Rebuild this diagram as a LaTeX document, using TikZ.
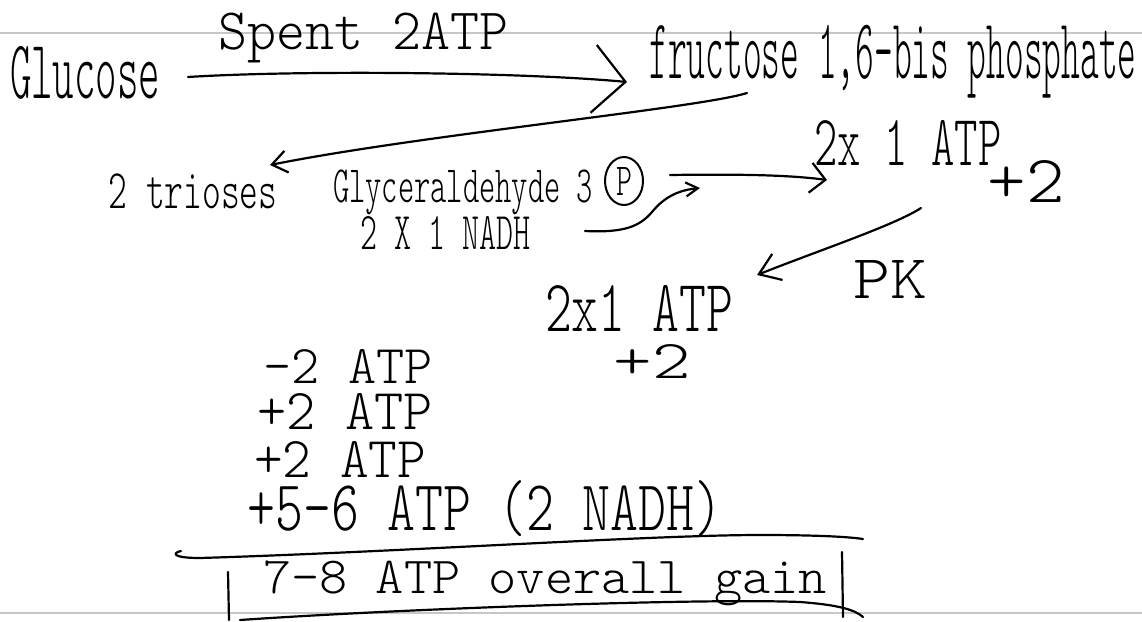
\documentclass[tikz,border=0pt]{standalone}
\usepackage{fontspec}
\newfontfamily\hand{lmmonolt10-regular.otf}
\usetikzlibrary{arrows.meta,shapes.geometric}
\newcommand{\hw}[3]{\resizebox*{#1pt}{#2pt}{\hand #3}}
\tikzset{
  txt/.style={inner sep=0pt, outer sep=0pt},
  pen/.style={line width=2.2pt, line cap=round, line join=round, black},
  ruled/.style={line width=1.6pt, color=black!22},
}
\begin{document}
\begin{tikzpicture}[x=1pt,y=-1pt]
\useasboundingbox (0,0) rectangle (1142,621);
\fill[white] (0,0) rectangle (1142,621);
% ruled notebook lines
\draw[ruled] (0,33) -- (1142,33);
\draw[ruled] (0,613) -- (1142,613);

% texts
\node[txt] (glucose) at (85,73) {\hw{150}{53}{Glucose}};
\node[txt] (spent) at (363,38) {\hw{290}{50}{Spent 2ATP}};
\node[txt] (fru) at (893,62) {\hw{487}{73}{fructose 1,6-bis phosphate}};
\node[txt] (trioses) at (193,191) {\hw{169}{35}{2 trioses}};
\node[txt] (glyc) at (463,192) {\hw{260}{45}{Glyceraldehyde 3}};
\node[txt, draw, ellipse, line width=2pt, minimum width=38pt, minimum height=48pt] (pc) at (624,181) {\hw{16}{28}{P}};
\node[txt] (atp1) at (908,143) {\hw{187}{45}{2x 1 ATP}};
\node[txt] (plus2a) at (1026,181) {\hw{77}{42}{+2}};
\node[txt] (nadh) at (445,233) {\hw{170}{33}{2 X 1 NADH}};
\node[txt] (pk) at (890,279) {\hw{74}{38}{PK}};
\node[txt] (atp2) at (639,308) {\hw{188}{46}{2x1 ATP}};
\node[txt] (plus2b) at (652,361) {\hw{77}{34}{+2}};
\node[txt] (l1) at (348,366) {\hw{169}{34}{-2 ATP}};
\node[txt] (l2) at (345,411) {\hw{175}{36}{+2 ATP}};
\node[txt] (l3) at (340,459) {\hw{172}{36}{+2 ATP}};
\node[txt] (l4) at (485,509) {\hw{475}{56}{+5-6 ATP (2 NADH)}};
\node[txt] (total) at (545,583) {\hw{564}{45}{7-8 ATP overall gain}};

% connector end points
\coordinate (g1) at (188,77);
\coordinate (f1) at (627,82);
\coordinate (f2) at (747,93);
\coordinate (t1) at (270,165);
\coordinate (gy1) at (670,175);
\coordinate (a1) at (827,180);
\coordinate (n1) at (585,231);
\coordinate (n2) at (700,188);
\coordinate (a2) at (921,208);
\coordinate (a3) at (757,275);

% arrows
\draw[pen, -{Straight Barb[length=32pt,width=68pt]}] (g1) .. controls (300,70) and (520,72) .. (f1);
\draw[pen, -{Straight Barb[length=15pt,width=22pt]}] (f2) .. controls (700,108) and (420,135) .. (t1);
\draw[pen, -{Straight Barb[length=15pt,width=30pt]}] (gy1) .. controls (740,174) and (790,175) .. (a1);
\draw[pen, -{Straight Barb[length=12pt,width=14pt]}] (n1) .. controls (625,233) and (640,226) .. (652,212) .. controls (665,196) and (680,190) .. (n2);
\draw[pen, -{Straight Barb[length=20pt,width=28pt]}] (a2) .. controls (895,225) and (820,250) .. (a3);

% summation lines
\coordinate (s1) at (181,551);
\coordinate (s2) at (863,539);
\draw[pen] (s1) .. controls (172,553) and (172,558) .. (200,558) .. controls (400,552) and (650,535) .. (760,535) .. controls (820,535) and (850,537) .. (s2);
\coordinate (b1) at (228,572);
\coordinate (b2) at (229,620);
\coordinate (b3) at (842,552);
\coordinate (b4) at (843,617);
\draw[pen] (b1) -- (b2);
\draw[pen] (b3) -- (b4);
\coordinate (u1) at (240,620);
\coordinate (u2) at (863,617);
\draw[pen] (u1) .. controls (400,609) and (700,598) .. (800,602) .. controls (840,605) and (855,610) .. (u2);
\end{tikzpicture}
\end{document}
